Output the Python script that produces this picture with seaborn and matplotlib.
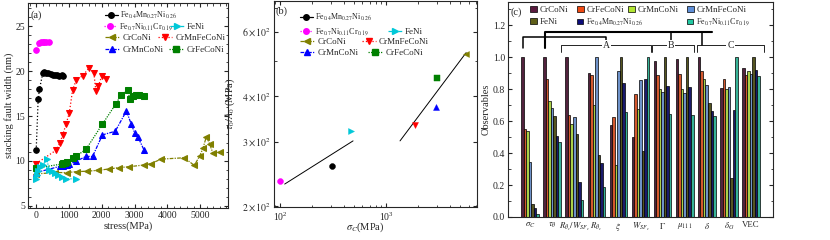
import matplotlib
matplotlib.use("Agg")
import matplotlib.pyplot as plt
import pandas as pd
import seaborn as sns
from matplotlib.legend import Legend
from matplotlib.lines import Line2D
from matplotlib.patches import Patch
from matplotlib.ticker import FixedLocator, MultipleLocator, NullFormatter


ALLOYS = ["CrCoNi", "CrFeCoNi", "CrMnCoNi", "CrMnFeCoNi", "FeNi",
          "Fe0.4Mn0.27Ni0.26", "Fe0.7Ni0.11Cr0.19"]
LABELS = {
    "CrCoNi": "CrCoNi",
    "CrFeCoNi": "CrFeCoNi",
    "CrMnCoNi": "CrMnCoNi",
    "CrMnFeCoNi": "CrMnFeCoNi",
    "FeNi": "FeNi",
    "Fe0.4Mn0.27Ni0.26": r"Fe$_{0.4}$Mn$_{0.27}$Ni$_{0.26}$",
    "Fe0.7Ni0.11Cr0.19": r"Fe$_{0.7}$Ni$_{0.11}$Cr$_{0.19}$",
}

# (a) stacking fault width (nm) vs stress (MPa)
fe04_stress = [0, 60, 100, 200, 240, 300, 370, 440, 505, 575, 645, 705, 780, 830]
fe04_width = [11.2, 16.9, 18.0, 19.75, 19.9, 19.8, 19.75, 19.65, 19.6, 19.55, 19.6, 19.5, 19.55, 19.45]
fe07_stress = [0, 100, 150, 200, 250, 300, 400]
fe07_width = [22.4, 23.1, 23.2, 23.25, 23.3, 23.3, 23.3]
feni_stress = [0, 20, 60, 120, 200, 320, 400, 480, 580, 680, 780, 900, 1200]
feni_width = [8.0, 8.4, 8.9, 9.3, 9.5, 10.2, 9.0, 8.9, 8.65, 8.45, 8.25, 8.0, 8.0]
crconi_stress = [0, 580, 930, 1230, 1540, 1890, 2220, 2520, 2830, 3300, 3500, 3810,
                 4520, 4820, 4990, 5090, 5190, 5290, 5390, 5600]
crconi_width = [8.55, 8.7, 8.7, 8.8, 8.85, 8.95, 9.1, 9.25, 9.35, 9.55, 9.7, 10.2,
                10.35, 9.5, 10.55, 11.45, 12.7, 11.9, 10.85, 11.0]
crmnfeconi_stress = [0, 610, 720, 810, 910, 1010, 1110, 1220, 1420, 1620, 1760, 1820, 1900, 2000, 2120]
crmnfeconi_width = [9.7, 11.2, 12.0, 12.9, 14.1, 15.35, 17.9, 19.0, 19.5, 20.4, 19.75, 17.8, 18.4, 19.45, 19.1]
crmnconi_stress = [0, 730, 830, 930, 1010, 1210, 1520, 1720, 2020, 2410, 2750, 2900, 3000, 3100, 3290]
crmnconi_width = [8.7, 9.4, 9.45, 9.55, 9.65, 9.95, 10.5, 10.5, 12.9, 13.3, 15.55, 14.1, 13.15, 12.7, 11.2]
crfeconi_stress = [0, 780, 830, 880, 930, 1110, 1210, 1520, 2020, 2420, 2600, 2800, 2850, 2950, 3030, 3150, 3300]
crfeconi_width = [9.2, 9.65, 9.75, 9.8, 9.9, 10.3, 10.5, 11.3, 14.1, 16.3, 17.4, 17.9, 16.9, 17.2, 17.4, 17.3, 17.2]

# (b) tau0/A0 (MPa) vs sigma_c (MPa)
sigma_c = {"Fe0.4Mn0.27Ni0.26": 310, "Fe0.7Ni0.11Cr0.19": 100, "FeNi": 470, "CrCoNi": 5700,
           "CrMnFeCoNi": 1880, "CrMnCoNi": 2960, "CrFeCoNi": 3000}
tau_a0 = {"Fe0.4Mn0.27Ni0.26": 257, "Fe0.7Ni0.11Cr0.19": 235, "FeNi": 321, "CrCoNi": 523,
          "CrMnFeCoNi": 334, "CrMnCoNi": 375, "CrFeCoNi": 448}
fit1_x, fit1_y = [111, 489], [230, 302]
fit2_x, fit2_y = [1355, 5690], [302, 527]

# (c) normalised observables
OBSERVABLES = [r"$\sigma_C$", r"$\tau_\theta$", r"$R_{\theta_c}/W_{SF_c}$", r"$R_{\theta_c}$", r"$\xi$",
               r"$W_{SF_c}$", r"$\Gamma$", r"$\mu_{111}$", r"$\delta$", r"$\delta_G$", "VEC"]
obs_values = {
    "CrCoNi": [1.0, 1.0, 1.0, 0.90, 0.577, 0.50, 0.973, 0.985, 1.0, 0.808, 0.93],
    "CrFeCoNi": [0.552, 0.86, 0.64, 0.89, 0.625, 0.77, 0.89, 0.895, 0.915, 0.865, 0.89],
    "CrMnCoNi": [0.54, 0.727, 0.58, 0.70, 0.327, 0.673, 0.80, 0.798, 0.865, 0.80, 0.915],
    "CrMnFeCoNi": [0.346, 0.683, 0.625, 1.0, 0.91, 0.855, 0.78, 0.777, 0.825, 0.81, 0.895],
    "FeNi": [0.079, 0.633, 0.52, 0.39, 1.0, 0.415, 1.0, 1.0, 0.71, 0.246, 1.0],
    "Fe0.4Mn0.27Ni0.26": [0.054, 0.508, 0.22, 0.335, 0.84, 0.86, 0.82, 0.81, 0.665, 0.67, 0.92],
    "Fe0.7Ni0.11Cr0.19": [0.02, 0.469, 0.104, 0.19, 0.656, 1.0, 0.645, 0.635, 0.632, 1.0, 0.88],
}

# styles
MARKER_STYLE = {
    "Fe0.4Mn0.27Ni0.26": ("o", "black", ":"),
    "Fe0.7Ni0.11Cr0.19": ("o", "#ff00ff", ":"),
    "FeNi": (">", "#00c8d8", (0, (3, 1, 1, 1, 1, 1))),
    "CrCoNi": ("<", "#808000", (0, (3, 1, 1, 1))),
    "CrMnFeCoNi": ("v", "#ff0000", ":"),
    "CrMnCoNi": ("^", "#0000ff", (0, (3, 1, 1, 1))),
    "CrFeCoNi": ("s", "#008000", (0, (1, 1))),
}
BAR_COLORS = ["#5a1a3e", "#f04a12", "#b2e632", "#5f8fd8", "#5e5e18", "#0c0c7a", "#22c8a2"]

sns.set_style("ticks")
plt.rcParams["font.family"] = "serif"
plt.rcParams["font.serif"] = ["Liberation Serif", "DejaVu Serif"]
plt.rcParams["mathtext.fontset"] = "stix"
plt.rcParams["xtick.direction"] = "in"
plt.rcParams["ytick.direction"] = "in"
plt.rcParams["xtick.top"] = True
plt.rcParams["ytick.right"] = True
plt.rcParams["font.size"] = 7.5
plt.rcParams["xtick.labelsize"] = 7
plt.rcParams["ytick.labelsize"] = 7
plt.rcParams["xtick.major.pad"] = 2.5
plt.rcParams["ytick.major.pad"] = 2
plt.rcParams["axes.linewidth"] = 0.8
plt.rcParams["xtick.major.size"] = 3
plt.rcParams["ytick.major.size"] = 3
plt.rcParams["xtick.minor.size"] = 1.8
plt.rcParams["ytick.minor.size"] = 1.8

fig = plt.figure(figsize=(8.3, 2.4), dpi=100)
ax_a = fig.add_axes([28 / 830, 32 / 240, 200 / 830, 205 / 240])
ax_b = fig.add_axes([274 / 830, 33 / 240, 203 / 830, 206 / 240])
ax_c = fig.add_axes([508 / 830, 23 / 240, 265 / 830, 215 / 240])


def line_handle(name):
    m, c, ls = MARKER_STYLE[name]
    if name == "Fe0.4Mn0.27Ni0.26":
        ls = "-"
    return Line2D([], [], marker=m, color=c, linestyle=ls, markersize=4, lw=0.9)


def place_entry(ax, handle, name, x, y, hlen=1.6, hheight=0.7):
    size = 5.8 if name.startswith("Fe0") else 6.5
    leg = Legend(ax, [handle], [LABELS[name]], loc="center left", bbox_to_anchor=(x, y),
                 frameon=False, borderpad=0, borderaxespad=0, fontsize=size,
                 handlelength=hlen, handleheight=hheight, handletextpad=0.3)
    ax.add_artist(leg)


# ---- (a)
series_a = [
    ("Fe0.4Mn0.27Ni0.26", fe04_stress, fe04_width),
    ("Fe0.7Ni0.11Cr0.19", fe07_stress, fe07_width),
    ("CrCoNi", crconi_stress, crconi_width),
    ("CrMnFeCoNi", crmnfeconi_stress, crmnfeconi_width),
    ("CrMnCoNi", crmnconi_stress, crmnconi_width),
    ("CrFeCoNi", crfeconi_stress, crfeconi_width),
    ("FeNi", feni_stress, feni_width),
]
for name, xs, ys in series_a:
    m, c, ls = MARKER_STYLE[name]
    sns.lineplot(x=xs, y=ys, ax=ax_a, marker=m, color=c, linestyle=ls, markersize=4,
                 markeredgecolor=c, lw=0.9, sort=False, estimator=None)
ax_a.set_xlim(-250, 5850)
ax_a.set_ylim(4.75, 27.6)
ax_a.xaxis.set_major_locator(MultipleLocator(1000))
ax_a.xaxis.set_minor_locator(MultipleLocator(200))
ax_a.yaxis.set_major_locator(MultipleLocator(5))
ax_a.yaxis.set_minor_locator(MultipleLocator(1))
ax_a.set_xlabel("stress(MPa)", labelpad=1)
ax_a.set_ylabel("stacking fault width (nm)")
ax_a.yaxis.set_label_coords(-0.07, 0.5)
ax_a.text(0.01, 0.965, "(a)", transform=ax_a.transAxes, va="top", ha="left")

legend_pos_a = {
    "Fe0.4Mn0.27Ni0.26": (0.385, 0.941),
    "Fe0.7Ni0.11Cr0.19": (0.38, 0.884),
    "FeNi": (0.71, 0.884),
    "CrCoNi": (0.385, 0.828),
    "CrMnFeCoNi": (0.65, 0.828),
    "CrMnCoNi": (0.385, 0.771),
    "CrFeCoNi": (0.705, 0.771),
}
for name, (x, y) in legend_pos_a.items():
    place_entry(ax_a, line_handle(name), name, x, y)

# ---- (b)
for name in ALLOYS:
    m, c, _ = MARKER_STYLE[name]
    sns.scatterplot(x=[sigma_c[name]], y=[tau_a0[name]], ax=ax_b, marker=m, color=c,
                    edgecolor=c, s=18, zorder=3)
sns.lineplot(x=fit1_x, y=fit1_y, ax=ax_b, color="black", lw=0.7)
sns.lineplot(x=fit2_x, y=fit2_y, ax=ax_b, color="black", lw=0.7)
ax_b.set_xscale("log")
ax_b.set_yscale("log")
ax_b.set_xlim(88, 7200)
ax_b.set_ylim(199, 730)
ax_b.yaxis.set_major_locator(FixedLocator([200, 300, 400, 600]))
ax_b.yaxis.set_minor_locator(FixedLocator([500, 700]))
ax_b.yaxis.set_minor_formatter(NullFormatter())
ax_b.set_yticklabels([r"$2\times10^{2}$", r"$3\times10^{2}$", r"$4\times10^{2}$", r"$6\times10^{2}$"])
ax_b.set_xlabel(r"$\sigma_C$(MPa)")
ax_b.xaxis.set_label_coords(0.448, -0.065)
ax_b.set_ylabel(r"$\tau_0/A_0$ (MPa)")
ax_b.yaxis.set_label_coords(-0.182, 0.5)
ax_b.text(0.005, 0.975, "(b)", transform=ax_b.transAxes, va="top", ha="left")

legend_pos_b = {
    "Fe0.4Mn0.27Ni0.26": (0.128, 0.919),
    "Fe0.7Ni0.11Cr0.19": (0.128, 0.85),
    "FeNi": (0.56, 0.85),
    "CrCoNi": (0.128, 0.80),
    "CrMnFeCoNi": (0.433, 0.80),
    "CrMnCoNi": (0.128, 0.746),
    "CrFeCoNi": (0.463, 0.746),
}
for name, (x, y) in legend_pos_b.items():
    place_entry(ax_b, line_handle(name), name, x, y)

# ---- (c)
rows = []
for name in ALLOYS:
    for obs, v in zip(OBSERVABLES, obs_values[name]):
        rows.append({"observable": obs, "alloy": name, "value": v})
df_c = pd.DataFrame(rows)
sns.barplot(data=df_c, x="observable", y="value", hue="alloy", order=OBSERVABLES,
            hue_order=ALLOYS, palette=BAR_COLORS, width=0.8, edgecolor="black",
            linewidth=0.5, errorbar=None, legend=False, ax=ax_c)
ax_c.set_xlim(-1.0, 11.0)
ax_c.set_ylim(0, 1.344)
ax_c.yaxis.set_major_locator(MultipleLocator(0.2))
ax_c.yaxis.set_minor_locator(MultipleLocator(0.1))
ax_c.yaxis.set_major_formatter(plt.FuncFormatter(lambda v, p: f"{v:.1f}"))
ax_c.tick_params(axis="x", which="both", length=0, pad=3, labelsize=6.3)
ax_c.set_xlabel("")
ax_c.set_ylabel("Observables")
ax_c.yaxis.set_label_coords(-0.064, 0.5)
ax_c.text(0.01, 0.975, "(c)", transform=ax_c.transAxes, va="top", ha="left")


def bracket(x0, x1, xm, label):
    ax_c.plot([x0, x0, x1, x1], [1.03, 1.075, 1.075, 1.03], color="black", lw=0.6)
    ax_c.text(xm, 1.075, label, ha="center", va="center", fontsize=7,
              bbox=dict(facecolor="white", edgecolor="none", pad=0.6))


bracket(1.42, 5.47, 3.45, "A")
bracket(5.52, 7.41, 6.37, "B")
bracket(7.55, 10.6, 9.08, "C")
ax_c.plot([-0.34, -0.34, 3.45, 3.45], [1.056, 1.125, 1.125, 1.085], color="black", lw=1.1)
ax_c.plot([0.66, 0.66, 8.22], [1.056, 1.156, 1.156], color="black", lw=1.5)
ax_c.plot([6.37, 6.37], [1.156, 1.085], color="black", lw=1.1)
ax_c.plot([7.77, 7.77], [1.156, 1.075], color="black", lw=1.1)

legend_pos_c = {
    "CrCoNi": (0.083, 0.963),
    "CrFeCoNi": (0.26, 0.963),
    "CrMnCoNi": (0.453, 0.963),
    "CrMnFeCoNi": (0.675, 0.963),
    "FeNi": (0.083, 0.907),
    "Fe0.4Mn0.27Ni0.26": (0.26, 0.907),
    "Fe0.7Ni0.11Cr0.19": (0.675, 0.907),
}
for name, (x, y) in legend_pos_c.items():
    c = BAR_COLORS[ALLOYS.index(name)]
    place_entry(ax_c, Patch(facecolor=c, edgecolor="black", lw=0.5), name, x, y,
                hlen=0.8, hheight=0.7)

fig.savefig("out.png", dpi=100)
